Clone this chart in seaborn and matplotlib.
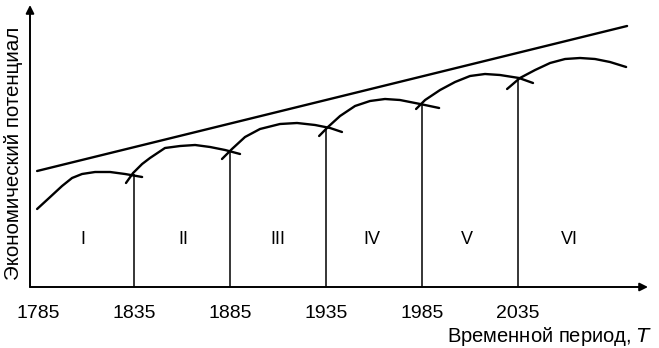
import matplotlib
matplotlib.use("Agg")
import matplotlib.pyplot as plt
import seaborn as sns
import pandas as pd

# ---- data (years, economic potential in arbitrary units) ----
tick_years = [1785, 1835, 1885, 1935, 1985, 2035]

trend_x = [1784.5, 2091.8]
trend_y = [116, 261]

wave1_x = [1784.5, 1791.3, 1797.5, 1802.7, 1807.9, 1814.7, 1822.5, 1830.3, 1839.2]
wave1_y = [78, 90, 101, 109, 113, 115, 115, 113, 110]
wave2_x = [1830.8, 1834.5, 1839.2, 1843.3, 1851.1, 1859.0, 1866.8, 1874.6, 1882.4, 1890.2]
wave2_y = [104, 114, 123, 129, 139, 141, 142, 140, 137, 133]
wave3_x = [1880.8, 1886.0, 1892.8, 1900.6, 1911.0, 1919.9, 1929.3, 1937.1, 1943.3]
wave3_y = [128, 138, 150, 158, 163, 164, 162, 159, 155]
wave4_x = [1931.4, 1936.0, 1942.3, 1950.1, 1957.9, 1965.7, 1973.5, 1984.0, 1993.9]
wave4_y = [151, 160, 171, 181, 186, 188, 187, 183, 179]
wave5_x = [1981.9, 1986.6, 1994.4, 2002.2, 2010.0, 2017.8, 2025.6, 2035.5, 2042.8]
wave5_y = [178, 187, 197, 205, 211, 213, 212, 209, 204]
wave6_x = [2029.3, 2036.0, 2043.9, 2051.7, 2059.5, 2067.3, 2075.1, 2082.9, 2091.3]
wave6_y = [198, 209, 217, 224, 228, 229, 228, 225, 220]

divider_x = [1835, 1885, 1935, 1985, 2035]
divider_top = [113, 137, 160, 184, 209]

period_labels = ["I", "II", "III", "IV", "V", "VI"]
period_x = [1808.4, 1860.5, 1910.0, 1959.0, 2008.4, 2062.0]
period_y = [47, 47, 47, 47, 47, 47]

# ---- style ----
sns.set_theme(style="white")
fam = ["Liberation Sans Narrow", "Liberation Sans", "DejaVu Sans"]
plt.rcParams["font.family"] = fam
plt.rcParams["mathtext.fontset"] = "custom"
plt.rcParams["mathtext.rm"] = "Liberation Sans Narrow"
plt.rcParams["mathtext.it"] = "Liberation Sans Narrow:italic"

W, H = 659, 348
fig = plt.figure(figsize=(W / 100, H / 100), dpi=100)
ax = fig.add_axes([30 / W, (H - 287) / H, (648 - 30) / W, (287 - 5) / H])
ax.set_xlim(1780.8, 2102.7)
ax.set_ylim(0, 282)
for s in ax.spines.values():
    s.set_visible(False)
ax.set_facecolor("white")

lw = 1.7
sns.lineplot(x=trend_x, y=trend_y, ax=ax, color="black", lw=lw)
waves = [(wave1_x, wave1_y), (wave2_x, wave2_y), (wave3_x, wave3_y),
         (wave4_x, wave4_y), (wave5_x, wave5_y), (wave6_x, wave6_y)]
for wx, wy in waves:
    df = pd.DataFrame({"t": wx, "p": wy})
    sns.lineplot(data=df, x="t", y="p", ax=ax, color="black", lw=lw,
                 sort=False, estimator=None)
for ln in ax.lines:
    ln.set_solid_joinstyle("round")
    ln.set_solid_capstyle("round")
ax.vlines(divider_x, 0, divider_top, color="black", lw=1.1)

for lab, px, py in zip(period_labels, period_x, period_y):
    ax.text(px, py, lab, ha="center", va="center", fontsize=13, color="black")

# axes with arrows
ax.annotate("", xy=(0, 1.0), xytext=(0, 0), xycoords="axes fraction",
            arrowprops=dict(arrowstyle="-|>", color="black", lw=1.4,
                            mutation_scale=12, shrinkA=0, shrinkB=0))
ax.annotate("", xy=(1.0, 0), xytext=(0, 0), xycoords="axes fraction",
            arrowprops=dict(arrowstyle="-|>", color="black", lw=1.4,
                            mutation_scale=12, shrinkA=0, shrinkB=0))

ax.set_xticks(tick_years)
ax.set_xticklabels([str(t) for t in tick_years])
ax.tick_params(axis="x", length=0, pad=13, labelsize=14, colors="black")
ax.set_yticks([])
ax.set_xlabel("")
ax.set_ylabel("")

fig.text(652 / W, 1 - 342 / H, "Временной период, $T$", ha="right",
         va="baseline", fontsize=14.5, color="black")
fig.text(14 / W, 1 - 153 / H, "Экономический потенциал", rotation=90,
         ha="center", va="center", fontsize=14.8, color="black")

fig.savefig("out.png", dpi=100, facecolor="white")
